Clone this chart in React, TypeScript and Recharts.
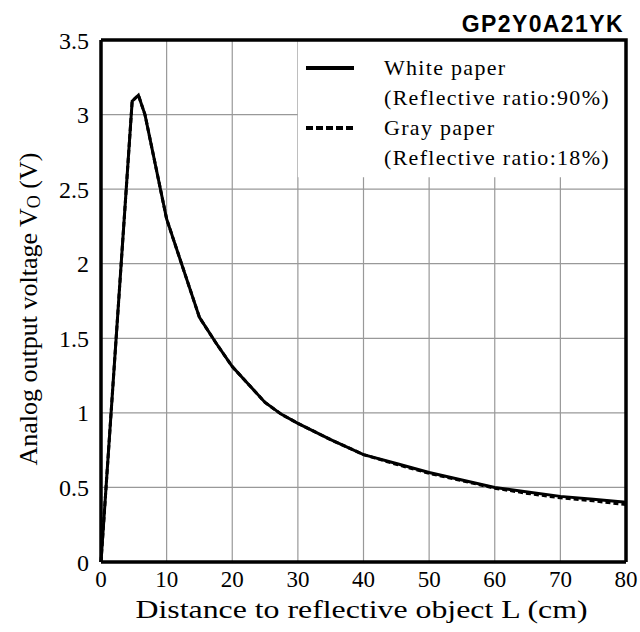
import {
  LineChart,
  Line,
  XAxis,
  YAxis,
  CartesianGrid,
  ReferenceArea,
} from "recharts";

const distance = [0, 4.75, 5.7, 6.7, 10, 15, 17.5, 20, 22.5, 25, 27.5, 30, 35, 40, 45, 50, 55, 60, 65, 70, 75, 80];
const whitePaper = [0, 3.09, 3.13, 3.0, 2.3, 1.64, 1.47, 1.31, 1.19, 1.07, 0.99, 0.93, 0.82, 0.72, 0.66, 0.6, 0.55, 0.5, 0.47, 0.44, 0.42, 0.4];
const grayPaper = [0, 3.09, 3.13, 3.0, 2.3, 1.64, 1.47, 1.31, 1.19, 1.07, 0.99, 0.93, 0.82, 0.72, 0.655, 0.595, 0.545, 0.495, 0.46, 0.43, 0.41, 0.385];
const xTicks = [0, 10, 20, 30, 40, 50, 60, 70, 80];
const yTicks = [0, 0.5, 1, 1.5, 2, 2.5, 3, 3.5];

const data = distance.map((d, i) => ({ d, white: whitePaper[i], gray: grayPaper[i] }));

const serif = "'Liberation Serif', 'DejaVu Serif', serif";

// plot box, used for the top/right frame overlay
const plotLeft = 101;
const plotTop = 40;
const plotRight = 626;
const plotBottom = 562;

const YLabel = ({ viewBox }: any) => {
  const cx = 28;
  const cy = viewBox.y + viewBox.height / 2 + 8;
  return (
    <text
      x={cx}
      y={cy}
      transform={`rotate(-90 ${cx} ${cy})`}
      textAnchor="middle"
      dominantBaseline="central"
      fontFamily={serif}
      fontSize={26}
      fill="#000"
    >
      Analog output voltage V
      <tspan fontSize={18} dy={6}>O</tspan>
      <tspan dy={-6}> (V)</tspan>
    </text>
  );
};

const XLabel = ({ viewBox }: any) => {
  const cx = viewBox.x + viewBox.width / 2 - 2;
  return (
    <text
      x={cx}
      y={618}
      textAnchor="middle"
      fontFamily={serif}
      fontSize={26}
      fill="#000"
      textLength={452}
      lengthAdjust="spacingAndGlyphs"
    >
      Distance to reflective object L (cm)
    </text>
  );
};

export default function App() {
  return (
    <div style={{ position: "absolute", left: 0, top: 0, width: 640, height: 632, background: "#fff" }}>
      <LineChart
        width={640}
        height={632}
        data={data}
        margin={{ top: plotTop, right: 640 - plotRight, bottom: 40, left: 41 }}
      >
        <CartesianGrid stroke="#999" strokeWidth={1.2} vertical horizontal />
        <ReferenceArea x1={30} x2={80} y1={2.58} y2={3.5} fill="#fff" fillOpacity={1} stroke="none" />
        <XAxis
          dataKey="d"
          type="number"
          domain={[0, 80]}
          ticks={xTicks}
          height={30}
          tickLine={false}
          axisLine={{ stroke: "#000", strokeWidth: 3.5 }}
          tick={{ fill: "#000", fontSize: 23, fontFamily: serif }}
          tickMargin={3}
          label={<XLabel />}
        />
        <YAxis
          type="number"
          domain={[0, 3.5]}
          ticks={yTicks}
          width={60}
          tickLine={false}
          axisLine={{ stroke: "#000", strokeWidth: 3.5 }}
          tick={{ fill: "#000", fontSize: 24, fontFamily: serif }}
          tickMargin={6}
          label={<YLabel />}
        />
        <Line
          type="linear"
          dataKey="gray"
          stroke="#000"
          strokeWidth={3}
          strokeDasharray="5 3"
          dot={false}
          isAnimationActive={false}
        />
        <Line
          type="linear"
          dataKey="white"
          stroke="#000"
          strokeWidth={3}
          dot={false}
          isAnimationActive={false}
        />
      </LineChart>
      <svg
        width={640}
        height={632}
        style={{ position: "absolute", left: 0, top: 0, pointerEvents: "none", zIndex: 5 }}
      >
        <polyline
          points={`${plotLeft},${plotTop} ${plotRight},${plotTop} ${plotRight},${plotBottom}`}
          fill="none"
          stroke="#000"
          strokeWidth={3.5}
        />
      </svg>
      <div
        style={{
          position: "absolute",
          right: 16,
          top: 13,
          zIndex: 6,
          fontFamily: "'Liberation Sans', Arial, sans-serif",
          fontWeight: "bold",
          fontSize: 23,
          lineHeight: "23px",
          letterSpacing: 1.4,
          color: "#000",
        }}
      >
        GP2Y0A21YK
      </div>
      <div
        style={{
          position: "absolute",
          left: 306,
          top: 53,
          zIndex: 6,
          fontFamily: serif,
          fontSize: 22,
          lineHeight: "30px",
          letterSpacing: 1.3,
          color: "#000",
        }}
      >
        <div style={{ display: "flex", alignItems: "center" }}>
          <svg width={48} height={6} style={{ marginRight: 30 }}>
            <line x1={0} y1={3} x2={48} y2={3} stroke="#000" strokeWidth={4} />
          </svg>
          White paper
        </div>
        <div style={{ paddingLeft: 78 }}>(Reflective ratio:90%)</div>
        <div style={{ display: "flex", alignItems: "center" }}>
          <svg width={48} height={6} style={{ marginRight: 30 }}>
            <line x1={0} y1={3} x2={48} y2={3} stroke="#000" strokeWidth={4} strokeDasharray="7 3" />
          </svg>
          Gray paper
        </div>
        <div style={{ paddingLeft: 78 }}>(Reflective ratio:18%)</div>
      </div>
    </div>
  );
}
